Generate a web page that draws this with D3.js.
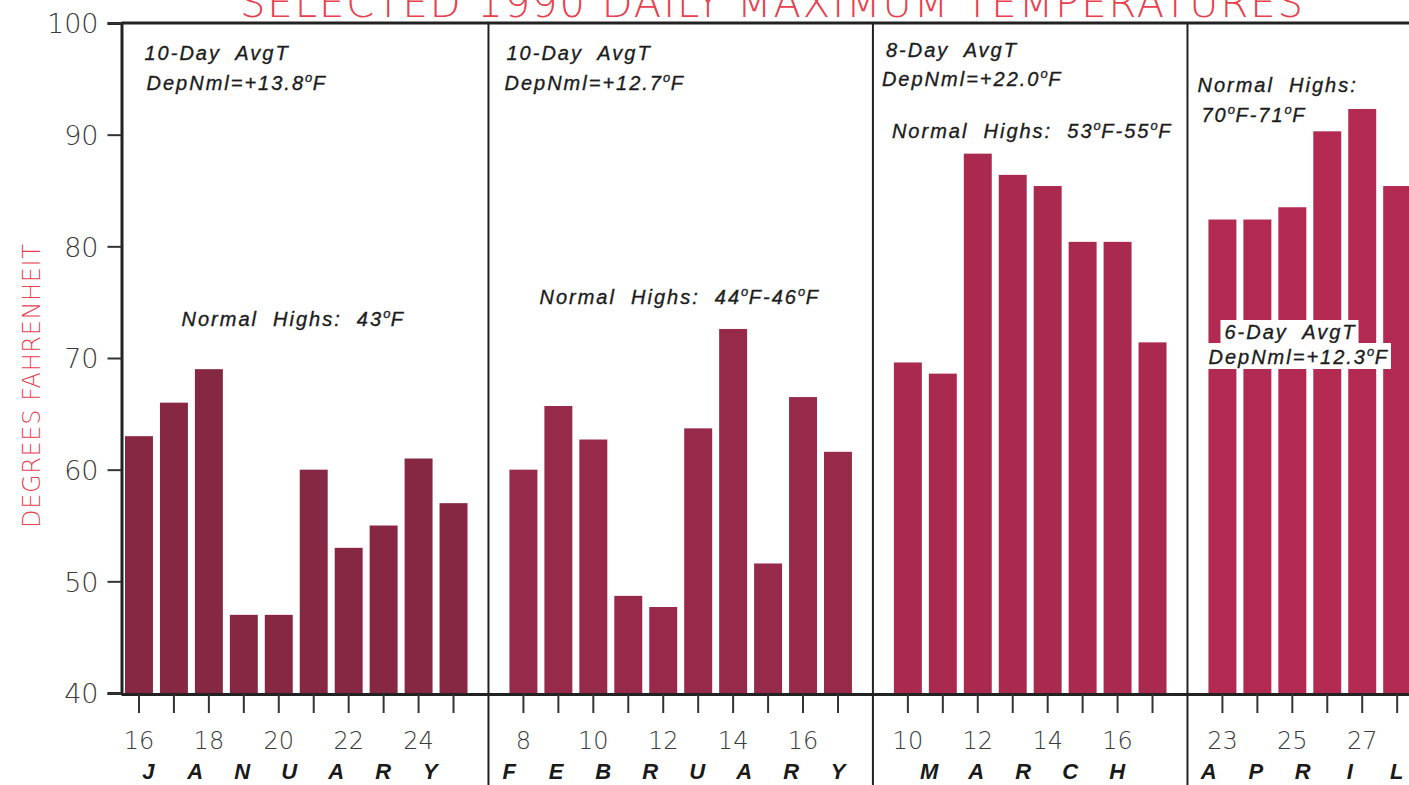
<!DOCTYPE html>
<html><head><meta charset="utf-8">
<script src="https://cdn.jsdelivr.net/npm/d3@7"></script>
<style>
body{margin:0;background:#fff;}
svg{display:block;}
.note{font-family:"Liberation Sans",Arial,sans-serif;font-style:italic;font-size:20px;letter-spacing:2px;fill:#1c1c1c;stroke:#1c1c1c;stroke-width:0.35px;white-space:pre;}
</style>
</head><body>
<svg id="chart" width="1409" height="785"></svg>
<script>
// ---------------- data ----------------
const titleText = "SELECTED 1990 DAILY MAXIMUM TEMPERATURES";
const yAxisLabel = "DEGREES FAHRENHEIT";
const months = ["JANUARY", "FEBRUARY", "MARCH", "APRIL"];
const janDays = [16, 17, 18, 19, 20, 21, 22, 23, 24, 25];
const janTemps = [63, 66, 69, 47, 47, 60, 53, 55, 61, 57];
const febDays = [8, 9, 10, 11, 12, 13, 14, 15, 16, 17];
const febTemps = [60, 65.7, 62.7, 48.7, 47.7, 63.7, 72.6, 51.6, 66.5, 61.6];
const marDays = [10, 11, 12, 13, 14, 15, 16, 17];
const marTemps = [69.6, 68.6, 88.3, 86.4, 85.4, 80.4, 80.4, 71.4];
const aprDays = [23, 24, 25, 26, 27, 28];
const aprTemps = [82.4, 82.4, 83.5, 90.3, 92.3, 85.4];
const yTicks = [40, 50, 60, 70, 80, 90, 100];
const janLabels = [16, 18, 20, 22, 24];
const febLabels = [8, 10, 12, 14, 16];
const marLabels = [10, 12, 14, 16];
const aprLabels = [23, 25, 27];
const avgDaysNotes = ["10-Day  AvgT", "10-Day  AvgT", "8-Day  AvgT", "6-Day  AvgT"];
const depNmlNotes = ["+13.8", "+12.7", "+22.0", "+12.3"];
const normalHighNotes = [["43"], ["44", "46"], ["53", "55"], ["70", "71"]];

// ---------------- build ----------------
const monthDays = [janDays, febDays, marDays, aprDays];
const monthTemps = [janTemps, febTemps, marTemps, aprTemps];
const monthLabels = [janLabels, febLabels, marLabels, aprLabels];
const monthColors = ["#862844", "#972a4a", "#aa294e", "#b22a51"];

const bars = [];
const keys = [];
months.forEach((m, i) => {
  if (i > 0) keys.push("gap" + i);
  monthDays[i].forEach((d, j) => {
    const k = m + "-" + d;
    keys.push(k);
    bars.push({key: k, month: i, day: d, temp: monthTemps[i][j]});
  });
});

const svg = d3.select("#chart");
const W = 1409, H = 785;
const x0 = 121.5, step = 34.95;
const x = d3.scaleBand().domain(keys)
  .range([x0, x0 + step * keys.length])
  .paddingInner(0.2).paddingOuter(0.1);
const y = d3.scaleLinear().domain([40, 100]).range([693, 23]);

const axisFont = '"DejaVu Sans", sans-serif';
const red = "#e8404f";

// title (clipped at top in the reference)
svg.append("text")
  .attr("x", 240).attr("y", 17)
  .attr("textLength", 1063).attr("lengthAdjust", "spacing")
  .style("font-family", axisFont).style("font-weight", 200)
  .style("font-size", "40px").style("fill", red)
  .text(titleText);

// bars
svg.append("g").selectAll("rect").data(bars).join("rect")
  .attr("x", d => x(d.key))
  .attr("width", x.bandwidth())
  .attr("y", d => y(d.temp))
  .attr("height", d => y(40) - y(d.temp))
  .attr("fill", d => monthColors[d.month]);

// y axis
const yAxis = svg.append("g").attr("transform", `translate(${x0},0)`)
  .call(d3.axisLeft(y).tickValues(yTicks).tickSize(14).tickPadding(9).tickFormat(d3.format("d")));
yAxis.select(".domain").attr("stroke", "#222").attr("stroke-width", 3);
yAxis.selectAll(".tick line").attr("stroke", "#333").attr("stroke-width", 2);
yAxis.selectAll(".tick text")
  .style("font-family", axisFont).style("font-weight", 200)
  .style("font-size", "27px").style("fill", "#3a3a3a")
  .attr("dy", "0.36em");

// y label
svg.append("text")
  .attr("transform", `translate(40,386) rotate(-90)`)
  .attr("text-anchor", "middle")
  .attr("textLength", 284).attr("lengthAdjust", "spacing")
  .style("font-family", axisFont).style("font-weight", 200)
  .style("font-size", "24px").style("fill", red)
  .text(yAxisLabel);

// x axis
const labelSet = new Set();
months.forEach((m, i) => monthLabels[i].forEach(d => labelSet.add(m + "-" + d)));
const xAxis = svg.append("g").attr("transform", `translate(0,${y(40) + 1})`)
  .call(d3.axisBottom(x).tickValues(bars.map(b => b.key)).tickSize(19).tickSizeOuter(0).tickPadding(19)
    .tickFormat(k => labelSet.has(k) ? k.split("-")[1] : ""));
xAxis.select(".domain").attr("stroke", "#222").attr("stroke-width", 3)
  .attr("d", `M${x0},0.5H${W}`);
xAxis.selectAll(".tick line").attr("stroke", "#333").attr("stroke-width", 2);
xAxis.selectAll(".tick text")
  .style("font-family", axisFont).style("font-weight", 200)
  .style("font-size", "24px").style("fill", "#3a3a3a");

// top frame line
svg.append("line").attr("x1", x0).attr("x2", W).attr("y1", y(100)).attr("y2", y(100))
  .attr("stroke", "#222").attr("stroke-width", 3);

// dividers between months
const dividers = keys.filter(k => k.startsWith("gap")).map(k => x(k) + x.bandwidth() / 2);
svg.append("g").selectAll("line").data(dividers).join("line")
  .attr("x1", d => d).attr("x2", d => d)
  .attr("y1", y(100)).attr("y2", H)
  .attr("stroke", "#222").attr("stroke-width", 2);

// month names, spaced letters
months.forEach((m, i) => {
  const ks = monthDays[i].map(d => m + "-" + d);
  const c = (x(ks[0]) + x(ks[ks.length - 1]) + x.bandwidth()) / 2 - 7;
  const letters = m.split("");
  svg.append("g").selectAll("text").data(letters).join("text")
    .attr("x", (d, j) => c + (j - (letters.length - 1) / 2) * 47)
    .attr("y", 779)
    .attr("text-anchor", "middle")
    .style("font-family", '"Liberation Sans", Arial, sans-serif')
    .style("font-weight", "bold").style("font-style", "italic")
    .style("font-size", "22px").style("fill", "#1a1a1a")
    .text(d => d);
});

// annotations
function degText(sel, parts) {
  let pendingDy = 0;
  parts.forEach(p => {
    if (p === "°") {
      sel.append("tspan").attr("dy", -8).style("font-size", "13px").style("letter-spacing", "0.5px").text("o");
      pendingDy = 8;
    } else {
      const ts = sel.append("tspan").text(p);
      if (pendingDy) { ts.attr("dy", pendingDy); pendingDy = 0; }
    }
  });
}
function note(px, py, parts, bg) {
  const g = svg.append("g");
  const t = g.append("text").attr("class", "note").attr("x", px).attr("y", py);
  degText(t, parts);
  if (bg) {
    const b = t.node().getBBox();
    g.insert("rect", "text").attr("x", b.x - 4).attr("y", b.y - 1)
      .attr("width", b.width + 6).attr("height", b.height + 2).attr("fill", "#fff");
  }
  return g;
}
const panelLeft = [x0, dividers[0], dividers[1], dividers[2]];
// top-left average notes for first three panels
[[23, 25, 60, 90], [18, 16, 60, 90], [13, 9, 57, 86]].forEach((o, i) => {
  note(panelLeft[i] + o[0], o[2], [avgDaysNotes[i]]);
  note(panelLeft[i] + o[1], o[3], ["DepNml=" + depNmlNotes[i], "°", "F"]);
});
// normal highs
note(panelLeft[0] + 60, 326, ["Normal  Highs:  " + normalHighNotes[0][0], "°", "F"]);
note(panelLeft[1] + 51, 304, ["Normal  Highs:  " + normalHighNotes[1][0], "°", "F-" + normalHighNotes[1][1], "°", "F"]);
note(panelLeft[2] + 19, 138, ["Normal  Highs:  " + normalHighNotes[2][0], "°", "F-" + normalHighNotes[2][1], "°", "F"]);
note(panelLeft[3] + 10, 92, ["Normal  Highs:"]);
note(panelLeft[3] + 14, 122, [normalHighNotes[3][0], "°", "F-" + normalHighNotes[3][1], "°", "F"]);
// April average note over the bars with white background
note(panelLeft[3] + 37, 339, [avgDaysNotes[3]], true);
note(panelLeft[3] + 21, 364, ["DepNml=" + depNmlNotes[3], "°", "F"], true);
</script>
</body></html>
